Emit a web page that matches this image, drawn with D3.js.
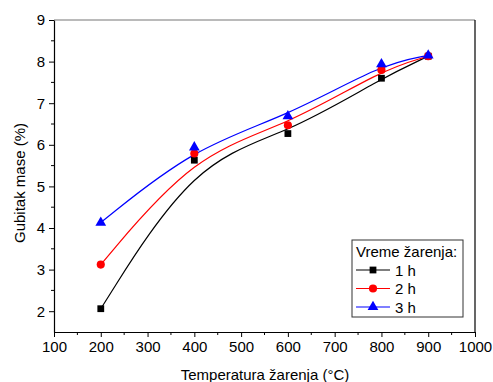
<!DOCTYPE html>
<html>
<head>
<meta charset="utf-8">
<script src="https://cdn.jsdelivr.net/npm/d3@7"></script>
<style>
  body { margin: 0; background: #fff; }
  svg { display: block; font-family: "Liberation Sans", Arial, sans-serif; }
</style>
</head>
<body>
<svg id="chart" width="493" height="382"></svg>
<script>
// temperatures (°C)
const temps = [200, 400, 600, 800, 900];
// mass loss (%) per annealing time
const loss1h = [2.06, 5.63, 6.27, 7.60, 8.13];
const loss2h = [3.12, 5.79, 6.47, 7.80, 8.13];
const loss3h = [4.13, 5.94, 6.69, 7.94, 8.15];
const seriesNames = ["1 h", "2 h", "3 h"];
const xTicks = [100, 200, 300, 400, 500, 600, 700, 800, 900, 1000];
const yTicks = [2, 3, 4, 5, 6, 7, 8, 9];

const svg = d3.select("#chart");
const margin = { top: 20, right: 18, bottom: 50, left: 54 };
const W = 493, H = 382;

const x = d3.scaleLinear().domain([100, 1000]).range([margin.left, W - margin.right]);
const y = d3.scaleLinear().domain([1.5, 9]).range([H - margin.bottom, margin.top]);

const series = [
  { name: seriesNames[0], vals: loss1h, color: "#000000", sym: d3.symbolSquare, size: 46 },
  { name: seriesNames[1], vals: loss2h, color: "#ff0000", sym: d3.symbolCircle, size: 52 },
  { name: seriesNames[2], vals: loss3h, color: "#0000ff", sym: d3.symbolTriangle, size: 50 }
];

// frame: top grey, right black
svg.append("line")
  .attr("x1", x(100)).attr("x2", x(1000))
  .attr("y1", y(9)).attr("y2", y(9))
  .attr("stroke", "#777").attr("stroke-width", 1.2);
svg.append("line")
  .attr("x1", x(1000)).attr("x2", x(1000))
  .attr("y1", y(9)).attr("y2", y(1.5))
  .attr("stroke", "#000").attr("stroke-width", 1.2);

// x axis
const xAxis = svg.append("g")
  .attr("transform", "translate(0," + y(1.5) + ")")
  .call(d3.axisBottom(x).tickValues(xTicks).tickFormat(d3.format("d"))
    .tickSize(5).tickSizeOuter(0).tickPadding(4));
xAxis.selectAll("text").style("font-size", "15px").attr("fill", "#000");
xAxis.append("g").selectAll("line")
  .data(d3.range(150, 1000, 100))
  .join("line")
  .attr("x1", d => x(d)).attr("x2", d => x(d))
  .attr("y1", 0).attr("y2", 3)
  .attr("stroke", "#000");

// y axis
const yAxis = svg.append("g")
  .attr("transform", "translate(" + x(100) + ",0)")
  .call(d3.axisLeft(y).tickValues(yTicks).tickSize(5).tickSizeOuter(0).tickPadding(4));
yAxis.selectAll("text").style("font-size", "15px").attr("fill", "#000");
yAxis.append("g").selectAll("line")
  .data(d3.range(2.5, 9, 1))
  .join("line")
  .attr("y1", d => y(d)).attr("y2", d => y(d))
  .attr("x1", 0).attr("x2", -3)
  .attr("stroke", "#000");
svg.selectAll(".domain").attr("stroke-width", 1.2);

// axis titles
svg.append("text")
  .attr("x", 265).attr("y", 380)
  .attr("text-anchor", "middle").style("font-size", "15px")
  .text("Temperatura žarenja (°C)");
svg.append("text")
  .attr("transform", "translate(25,183) rotate(-90)")
  .attr("text-anchor", "middle").style("font-size", "15px")
  .text("Gubitak mase (%)");

// smoothed curves + markers
const line = d3.line().x((d, i) => x(temps[i])).y(d => y(d)).curve(d3.curveBasis);
series.forEach(s => {
  svg.append("path").attr("d", line(s.vals))
    .attr("fill", "none").attr("stroke", s.color).attr("stroke-width", 1.2);
});
series.forEach(s => {
  svg.append("g").selectAll("path")
    .data(s.vals)
    .join("path")
    .attr("transform", (d, i) => "translate(" + x(temps[i]) + "," + y(d) + ")")
    .attr("d", d3.symbol().type(s.sym).size(s.size))
    .attr("fill", s.color);
});

// legend
const lg = svg.append("g").attr("transform", "translate(352,240)");
lg.append("rect").attr("width", 111).attr("height", 77)
  .attr("fill", "#fff").attr("stroke", "#333").attr("stroke-width", 1);
lg.append("text").attr("x", 4).attr("y", 17).style("font-size", "15px").text("Vreme žarenja:");
series.forEach((s, i) => {
  const ry = 30 + i * 18.5;
  lg.append("line").attr("x1", 4).attr("x2", 38).attr("y1", ry).attr("y2", ry)
    .attr("stroke", s.color).attr("stroke-width", 1.2);
  lg.append("path").attr("transform", "translate(21," + ry + ")")
    .attr("d", d3.symbol().type(s.sym).size(s.size)).attr("fill", s.color);
  lg.append("text").attr("x", 43).attr("y", ry + 5.5).style("font-size", "15px").text(s.name);
});
</script>
</body>
</html>
